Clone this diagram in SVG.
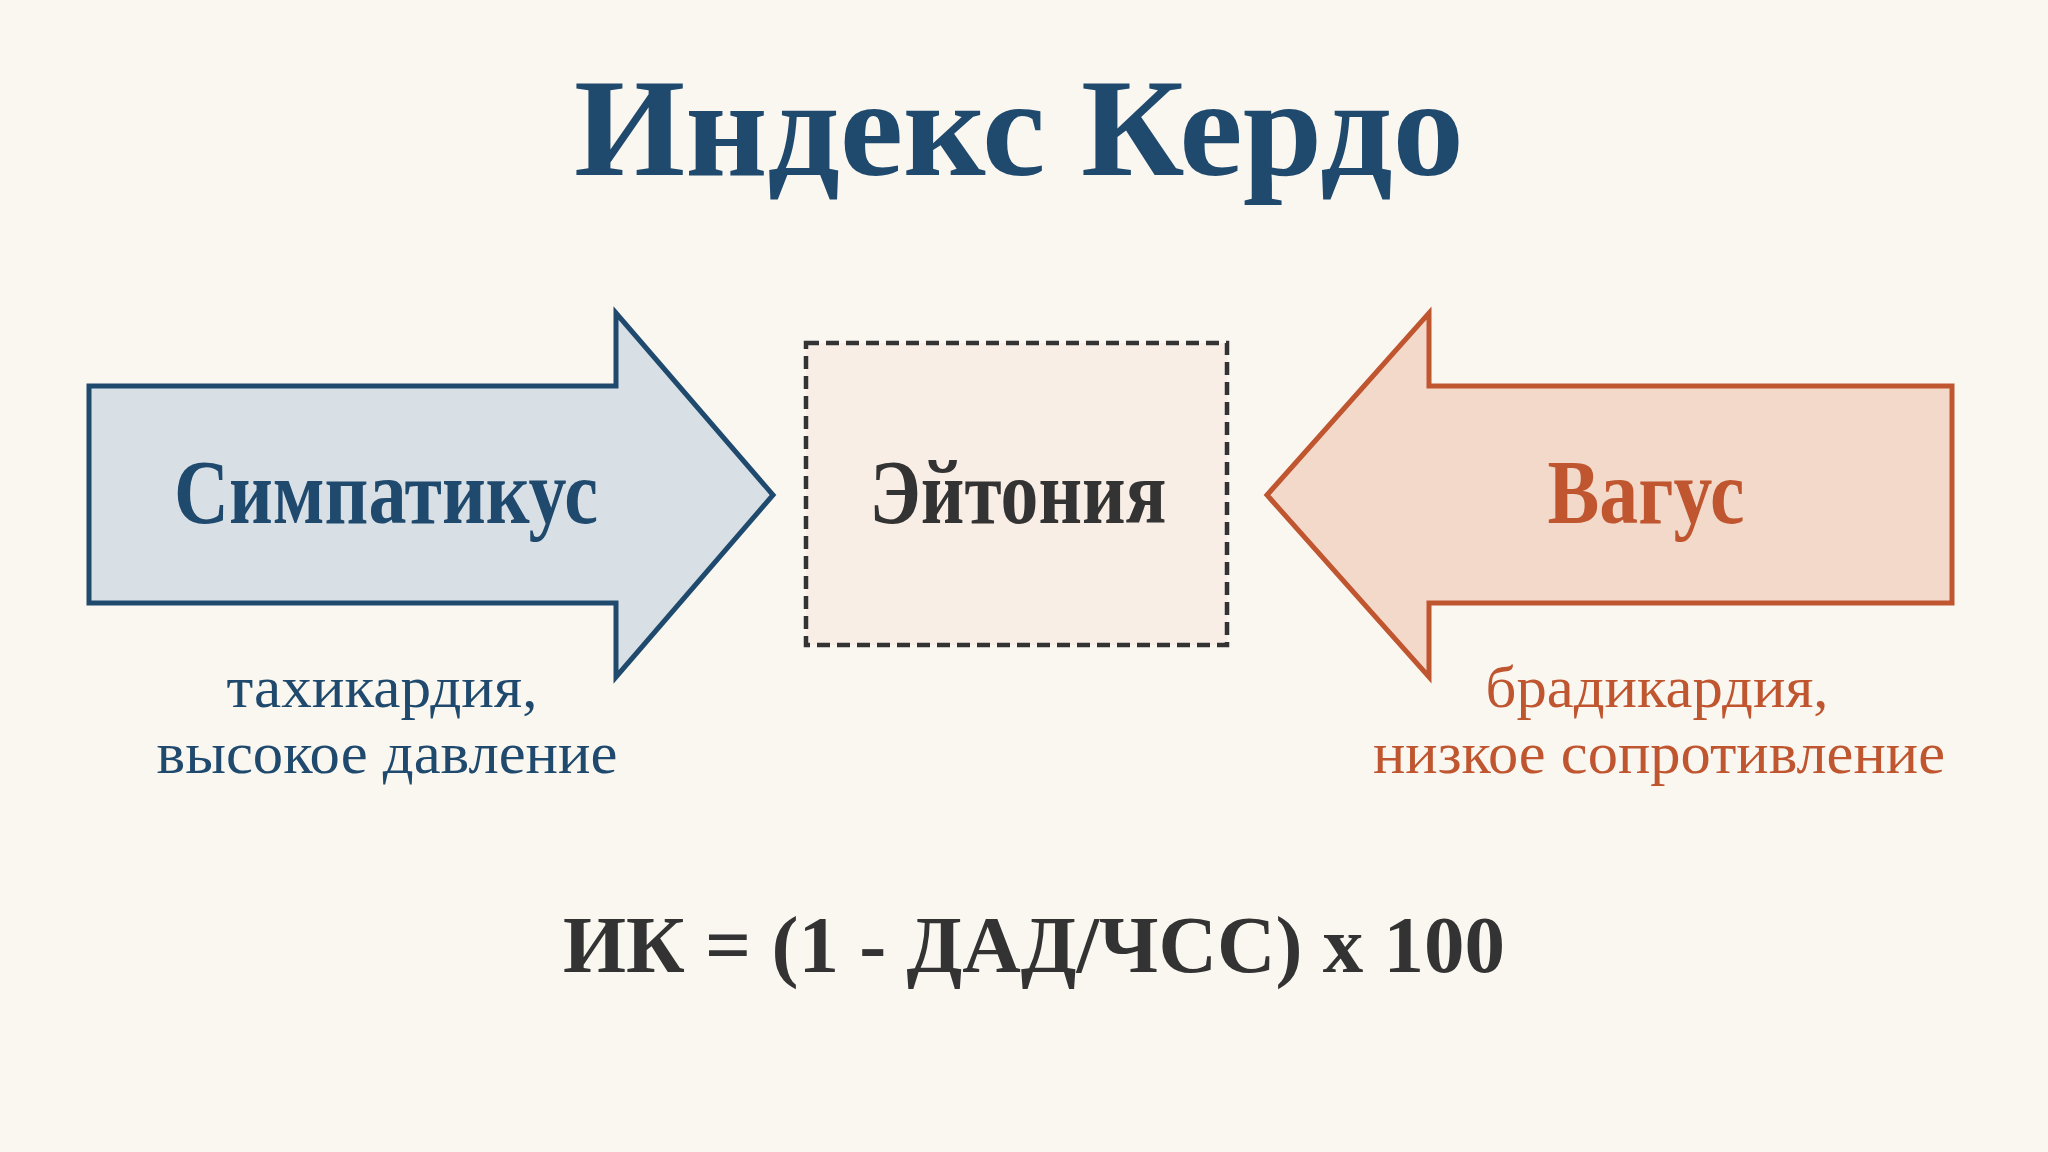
<svg xmlns="http://www.w3.org/2000/svg" width="2048" height="1152" viewBox="0 0 2048 1152">
<style>
.serif{font-family:"Liberation Serif","Times New Roman",serif}
.b{font-weight:bold}
.blue{fill:#1f4a6e}
.rust{fill:#bf5630}
.dark{fill:#333333}
.big{font-size:92px}
.sub{font-size:59px}
</style>
<rect x="0" y="0" width="2048" height="1152" fill="#faf6f0"/>
<g id="title">
<text class="serif b blue" x="1019" y="175" font-size="140" text-anchor="middle" textLength="890" lengthAdjust="spacingAndGlyphs">Индекс Кердо</text>
</g>
<g id="sympathicus">
<polygon points="89,386 616,386 616,313 773,495 616,677 616,603 89,603" fill="#d8e0e6" stroke="#1f4a6e" stroke-width="5" stroke-linejoin="miter"/>
<text class="serif b blue big" x="386" y="523" text-anchor="middle" textLength="424" lengthAdjust="spacingAndGlyphs">Симпатикус</text>
<text class="serif blue sub" x="382" y="707" text-anchor="middle" textLength="311" lengthAdjust="spacingAndGlyphs">тахикардия,</text>
<text class="serif blue sub" x="387" y="773" text-anchor="middle" textLength="461" lengthAdjust="spacingAndGlyphs">высокое давление</text>
</g>
<g id="eutonia">
<rect x="806" y="343" width="421" height="302" fill="#f8eee6" stroke="#333333" stroke-width="4.5" stroke-dasharray="13 7"/>
<text class="serif b dark big" x="1018" y="523" text-anchor="middle" textLength="297" lengthAdjust="spacingAndGlyphs">Эйтония</text>
</g>
<g id="vagus">
<polygon points="1952,386 1429,386 1429,313 1267,495 1429,677 1429,603 1952,603" fill="#f2d9ca" stroke="#bf5630" stroke-width="5" stroke-linejoin="miter"/>
<text class="serif b rust big" x="1646" y="523" text-anchor="middle" textLength="197" lengthAdjust="spacingAndGlyphs">Вагус</text>
<text class="serif rust sub" x="1657" y="707" text-anchor="middle" textLength="343" lengthAdjust="spacingAndGlyphs">брадикардия,</text>
<text class="serif rust sub" x="1659" y="773" text-anchor="middle" textLength="572" lengthAdjust="spacingAndGlyphs">низкое сопротивление</text>
</g>
<g id="connectors"></g>
<g id="formula">
<text class="serif b dark" x="1034" y="972" font-size="80" text-anchor="middle" textLength="942" lengthAdjust="spacingAndGlyphs">ИК = (1 - ДАД/ЧСС) x 100</text>
</g>
</svg>
